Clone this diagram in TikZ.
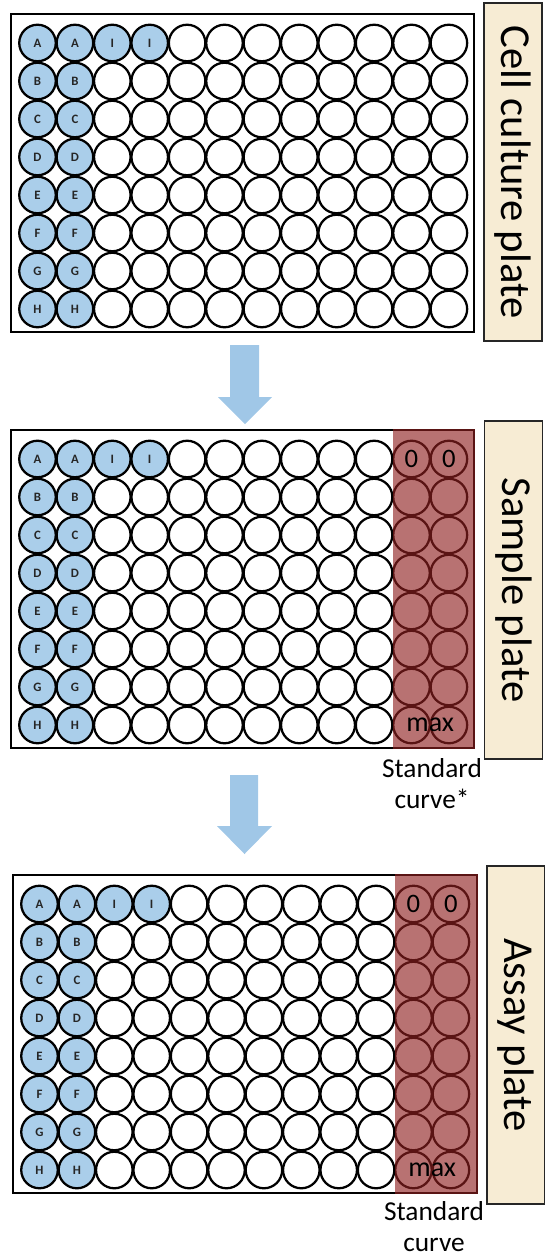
\documentclass[tikz,border=0pt]{standalone}
\usepackage{fontspec}
\setmainfont{Carlito}
\usetikzlibrary{calc}

\definecolor{wellblue}{RGB}{170,206,234}
\definecolor{arrowblue}{RGB}{160,199,231}
\definecolor{stdoverlay}{RGB}{143,32,32}
\definecolor{tagfill}{RGB}{247,236,212}

\tikzset{
  well/.style={circle, draw=black, line width=1.7pt, minimum size=27.4pt,
    inner sep=0pt, font=\fontsize{9.6}{10}\selectfont\bfseries, text=black!85},
  filledwell/.style={well, fill=wellblue},
  platebox/.style={draw=black, line width=1.5pt},
  stdband/.style={fill=stdoverlay, fill opacity=0.63, draw=none},
  tagbox/.style={draw=black!85, line width=1.1pt, fill=tagfill, rotate=-90,
    minimum width=253.5pt, minimum height=43.5pt, inner sep=0pt,
    font=\fontsize{32}{36}\selectfont},
  bigarrow/.style={fill=arrowblue, draw=none},
  stdtext/.style={font=\fontsize{20.5}{23.5}\selectfont, align=center, inner sep=0pt},
  welltext/.style={font=\fontsize{20}{22}\selectfont, inner sep=0pt},
}

% 96-well plate: #1 name, #2 left, #3 top, #4 right, #5 bottom
\newcommand\wellplate[5]{%
  \draw[platebox] (#2,#3) rectangle (#4,#5);
  \foreach \r/\L in {1/A,2/B,3/C,4/D,5/E,6/F,7/G,8/H} {
    \foreach \c in {1,...,12} {
      \pgfmathtruncatemacro\kind{\c<3 ? 1 : ((\r==1 && \c<5) ? 2 : 0)}
      \ifcase\kind
        \node[well] (#1-\r-\c) at ({#2+26.5+(\c-1)*37.4},{#3+29+(\r-1)*38}) {};
      \or
        \node[filledwell] (#1-\r-\c) at ({#2+26.5+(\c-1)*37.4},{#3+29+(\r-1)*38}) {\L};
      \or
        \node[filledwell] (#1-\r-\c) at ({#2+26.5+(\c-1)*37.4},{#3+29+(\r-1)*38}) {I};
      \fi
    }
  }
}

% standard-curve columns 11 and 12
\newcommand\stdcolumns[5]{%
  \fill[stdband] ({#2+26.5+10*37.4-19},{#3-1}) rectangle ({#4+1},{#5+1});
  \node[welltext] (#1-zero-a) at (#1-1-11) {0};
  \node[welltext] (#1-zero-b) at (#1-1-12) {0};
  \node[welltext, font=\fontsize{21}{23}\selectfont] (#1-max) at ($(#1-8-11)!0.5!(#1-8-12)$) {max};
}

\begin{document}
\begin{tikzpicture}[x=0.75pt,y=-0.75pt]
  \useasboundingbox (0,0) rectangle (544,1259);

  % plates
  \wellplate{cell}{11}{14}{474}{332}
  \wellplate{sample}{11}{430}{474}{748}
  \stdcolumns{sample}{11}{430}{474}{748}
  \wellplate{assay}{13}{875}{477}{1193}
  \stdcolumns{assay}{13}{875}{477}{1193}

  % side labels
  \node[tagbox] (tag-cell)   at (513,172)   {Cell culture plate};
  \node[tagbox] (tag-sample) at (513.5,590) {Sample plate};
  \node[tagbox] (tag-assay)  at (516,1035)  {Assay plate};

  % standard curve captions
  \node[stdtext, anchor=north] (std-sample) at (432,758) {Standard\\curve*};
  \node[stdtext, anchor=north] (std-assay)  at (434,1201) {Standard\\curve};

  % transfer arrows
  \fill[bigarrow] (230,345) -- (259,345) -- (259,397) -- (272,397)
    -- (245,424) -- (218,397) -- (230,397) -- cycle;
  \fill[bigarrow] (230,775) -- (258,775) -- (258,826) -- (272,826)
    -- (244.5,854) -- (217,826) -- (230,826) -- cycle;
\end{tikzpicture}
\end{document}
